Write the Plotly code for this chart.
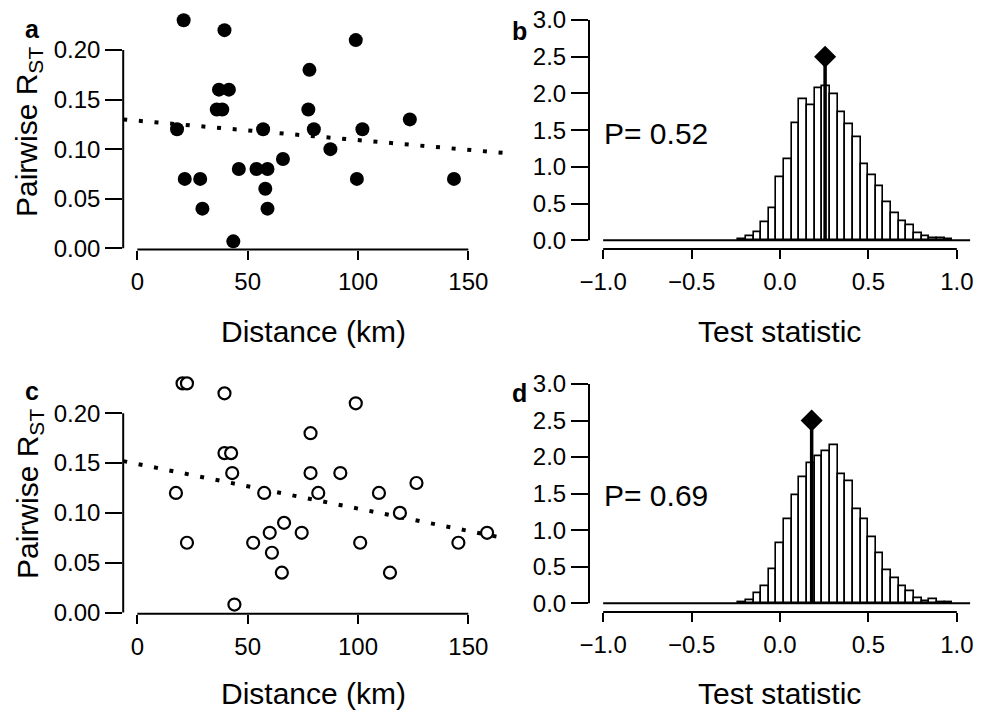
import plotly.graph_objects as go

W, H = 987, 710
FONT = "Liberation Sans, Arial, Helvetica, sans-serif"

# panel a / c : pairwise R_ST against distance
A_DIST = [21, 39.5, 99, 78, 37, 41.5, 36, 38.5, 77.5, 123.5, 18, 57, 80, 102,
          87.5, 66, 46, 54, 59, 21.5, 28.5, 99.5, 143.5, 58, 29.5, 59, 43.5]
A_RST = [0.23, 0.22, 0.21, 0.18, 0.16, 0.16, 0.14, 0.14, 0.14, 0.13, 0.12, 0.12,
         0.12, 0.12, 0.10, 0.09, 0.08, 0.08, 0.08, 0.07, 0.07, 0.07, 0.07, 0.06,
         0.04, 0.04, 0.007]
A_FIT = (0.1287, -0.000196)  # intercept, slope

C_DIST = [20.5, 22.5, 39.5, 99, 78.5, 39.5, 42.5, 43, 78.5, 92, 126.5, 17.5, 57.5,
          82, 109.5, 119, 66.5, 60, 74.5, 158.5, 22.5, 52.5, 101, 145.5, 61, 65.5,
          114.5, 44]
C_RST = [0.23, 0.23, 0.22, 0.21, 0.18, 0.16, 0.16, 0.14, 0.14, 0.14, 0.13, 0.12,
         0.12, 0.12, 0.12, 0.10, 0.09, 0.08, 0.08, 0.08, 0.07, 0.07, 0.07, 0.07,
         0.06, 0.04, 0.04, 0.008]
C_FIT = (0.1491, -0.000448)

# panel b / d : null distribution of the test statistic (density)
BIN_START = -0.236
BIN_WIDTH = 0.0432
B_DENS = [0.02, 0.05, 0.11, 0.25, 0.43, 0.86, 1.11, 1.60, 1.92, 1.84, 2.07, 2.10,
          1.99, 1.74, 1.58, 1.40, 1.03, 0.88, 0.74, 0.52, 0.37, 0.26, 0.21, 0.10,
          0.06, 0.03, 0.03, 0.01]
D_DENS = [0.01, 0.04, 0.14, 0.24, 0.46, 0.82, 1.15, 1.48, 1.72, 1.92, 2.01, 2.08,
          2.16, 1.76, 1.67, 1.29, 1.15, 0.91, 0.68, 0.45, 0.35, 0.24, 0.17, 0.07,
          0.03, 0.05, 0.02, 0.01]
B_OBS, D_OBS = 0.255, 0.179
OBS_TOP = 2.5
B_P, D_P = "P= 0.52", "P= 0.69"

DIST_TICKS = [0, 50, 100, 150]
RST_TICKS = [0, 0.05, 0.10, 0.15, 0.20]
STAT_TICKS = [-1.0, -0.5, 0.0, 0.5, 1.0]
DENS_TICKS = [0, 0.5, 1.0, 1.5, 2.0, 2.5, 3.0]
DIST_RANGE = [-6.4, 166.4]
RST_RANGE = [-0.0012, 0.236]
STAT_RANGE = [-1.08, 1.08]
DENS_RANGE = [-0.12, 3.12]


def xdom(left, right):
    return [left / W, right / W]


def ydom(top, bottom):
    return [1 - bottom / H, 1 - top / H]


def px_x(p):
    return p / W


def px_y(p):
    return 1 - p / H


fig = go.Figure()

# scatter panels
for dist, rst, fit, ax, filled in [(A_DIST, A_RST, A_FIT, "", True),
                                   (C_DIST, C_RST, C_FIT, "3", False)]:
    fig.add_trace(go.Scatter(
        x=DIST_RANGE, y=[fit[0] + fit[1] * v for v in DIST_RANGE],
        mode="lines", line=dict(color="black", width=4, dash="4px,11.7px"),
        xaxis="x" + ax, yaxis="y" + ax, hoverinfo="skip", cliponaxis=True))
    fig.add_trace(go.Scatter(
        x=dist, y=rst, mode="markers",
        marker=dict(size=14 if filled else 12,
                    color="black" if filled else "white",
                    line=dict(color="black", width=0 if filled else 2.2)),
        xaxis="x" + ax, yaxis="y" + ax, cliponaxis=False))

# histogram panels
edges = [BIN_START + i * BIN_WIDTH for i in range(len(B_DENS))]
for dens, obs, ax in [(B_DENS, B_OBS, "2"), (D_DENS, D_OBS, "4")]:
    fig.add_trace(go.Bar(
        x=edges, y=dens, width=BIN_WIDTH, offset=0,
        marker=dict(color="white", line=dict(color="black", width=1.6)),
        xaxis="x" + ax, yaxis="y" + ax))
    fig.add_trace(go.Scatter(
        x=[obs, obs], y=[0, OBS_TOP], mode="lines",
        line=dict(color="black", width=3.5),
        xaxis="x" + ax, yaxis="y" + ax, cliponaxis=False))
    fig.add_trace(go.Scatter(
        x=[obs], y=[OBS_TOP], mode="markers",
        marker=dict(symbol="diamond", size=17, color="black"),
        xaxis="x" + ax, yaxis="y" + ax, cliponaxis=False))

axis_common = dict(showgrid=False, zeroline=False, showline=False,
                   automargin=False, ticks="outside", tickwidth=2,
                   tickcolor="black",
                   tickfont=dict(family=FONT, size=24, color="black"))
xcommon = dict(axis_common, ticklen=9, ticklabelstandoff=2)
ycommon = dict(axis_common, ticklen=17, ticklabelstandoff=0)

fig.update_layout(
    template="none",
    xaxis=dict(xcommon, domain=xdom(123.2, 504.5), range=DIST_RANGE,
               tickvals=DIST_TICKS, anchor="y"),
    yaxis=dict(ycommon, domain=ydom(14.3, 249.5), range=RST_RANGE,
               tickvals=RST_TICKS, tickformat=".2f", anchor="x"),
    xaxis3=dict(xcommon, domain=xdom(123.2, 504.5), range=DIST_RANGE,
                tickvals=DIST_TICKS, anchor="y3"),
    yaxis3=dict(ycommon, domain=ydom(377.4, 613.7), range=RST_RANGE,
                tickvals=RST_TICKS, tickformat=".2f", anchor="x3"),
    xaxis2=dict(xcommon, domain=xdom(589, 971), range=STAT_RANGE,
                tickvals=STAT_TICKS, tickformat=".1f", anchor="y2"),
    yaxis2=dict(ycommon, domain=ydom(11.2, 249.0), range=DENS_RANGE,
                tickvals=DENS_TICKS, tickformat=".1f", anchor="x2"),
    xaxis4=dict(xcommon, domain=xdom(589, 971), range=STAT_RANGE,
                tickvals=STAT_TICKS, tickformat=".1f", anchor="y4"),
    yaxis4=dict(ycommon, domain=ydom(375.2, 612.1), range=DENS_RANGE,
                tickvals=DENS_TICKS, tickformat=".1f", anchor="x4"),
    width=W, height=H, margin=dict(l=0, r=0, t=0, b=0, pad=0),
    paper_bgcolor="white", plot_bgcolor="white",
    showlegend=False, bargap=0,
    font=dict(family=FONT, color="black"),
)

# R-style axis lines spanning only the tick range
line = dict(color="black", width=2)
shapes = []
for xa, ya, xt, yt in [("x", "y", DIST_TICKS, RST_TICKS),
                       ("x3", "y3", DIST_TICKS, RST_TICKS),
                       ("x2", "y2", STAT_TICKS, DENS_TICKS),
                       ("x4", "y4", STAT_TICKS, DENS_TICKS)]:
    shapes.append(dict(type="line", xref=xa + " domain", yref=ya,
                       x0=0, x1=0, y0=yt[0], y1=yt[-1], line=line))
    shapes.append(dict(type="line", xref=xa, yref=ya + " domain",
                       x0=xt[0], x1=xt[-1], y0=0, y1=0, line=line))
# histogram baselines
for xa, ya in [("x2", "y2"), ("x4", "y4")]:
    shapes.append(dict(type="line", xref=xa, yref=ya, x0=-1.0, x1=1.075,
                       y0=0, y1=0, line=line))
fig.update_layout(shapes=shapes)

annots = []
title_font = dict(family=FONT, size=30, color="black")
letter_font = dict(family=FONT, size=25, color="black")
for dy, p_text, letter_l, letter_r in [(0, B_P, "a", "b"), (362, D_P, "c", "d")]:
    annots.append(dict(text="Pairwise R<sub>ST</sub>", textangle=-90,
                       x=px_x(29), y=px_y(132 + dy), font=title_font))
    annots.append(dict(text="Distance (km)", x=px_x(313), y=px_y(331 + dy),
                       font=title_font))
    annots.append(dict(text="Test statistic", x=px_x(779), y=px_y(331 + dy),
                       font=title_font))
    annots.append(dict(text=p_text, x=px_x(602), y=px_y(132 + dy + 2),
                       xanchor="left", font=title_font))
    annots.append(dict(text="<b>%s</b>" % letter_l, x=px_x(32), y=px_y(27 + dy + 2),
                       font=letter_font))
    annots.append(dict(text="<b>%s</b>" % letter_r, x=px_x(519), y=px_y(29 + dy + 2),
                       font=letter_font))
for a in annots:
    a.update(xref="paper", yref="paper", showarrow=False)
    a.setdefault("xanchor", "center")
    a.setdefault("yanchor", "middle")
fig.update_layout(annotations=annots)

# the page body keeps its default 8px margin otherwise
fig.write_html("out.html", config={"displayModeBar": False},
               post_script="document.body.style.margin = '0px';")
